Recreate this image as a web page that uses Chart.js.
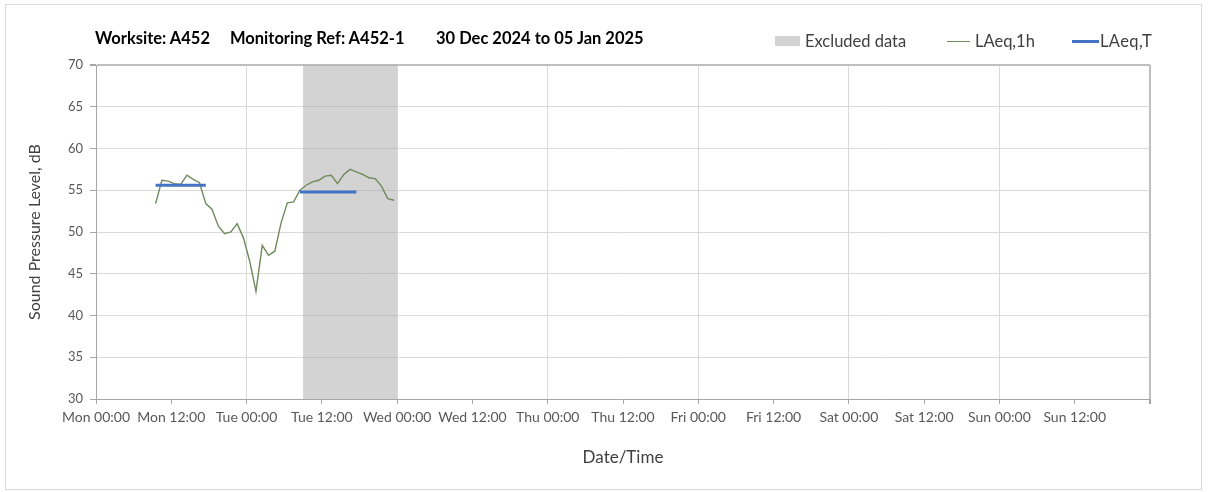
<!DOCTYPE html>
<html>
<head>
<meta charset="utf-8">
<script src="https://cdn.jsdelivr.net/npm/chart.js@4.4.1/dist/chart.umd.min.js"></script>
<style>
  html, body { margin: 0; padding: 0; background: #fff; }
  #wrap { position: relative; width: 1208px; height: 492px; overflow: hidden; }
  #frame { position: absolute; left: 5px; top: 4px; width: 1197px; height: 486px; border: 1px solid #d9d9d9; box-sizing: border-box; pointer-events: none; }
  canvas { position: absolute; left: 0; top: 0; }
  .t { position: absolute; top: 27px; font: bold 16.5px Lato, "Open Sans", sans-serif; color: #000; white-space: nowrap; line-height: 22px; }
  .lg { position: absolute; top: 30px; font: 16.5px Lato, "Open Sans", sans-serif; color: #404040; white-space: nowrap; line-height: 22px; }
  .sw { position: absolute; }
</style>
</head>
<body>
<div id="wrap">
  <canvas id="c" width="1208" height="492"></canvas>
  <div id="frame"></div>
  <div class="t" style="left:95px">Worksite: A452</div>
  <div class="t" style="left:230px">Monitoring Ref: A452-1</div>
  <div class="t" style="left:436px">30 Dec 2024 to 05 Jan 2025</div>

  <div class="sw" style="left:775px;top:36px;width:25px;height:10px;background:#d3d3d3"></div>
  <div class="lg" style="left:805px">Excluded data</div>
  <div class="sw" style="left:947px;top:41px;width:23px;height:1px;background:#6f8a5c"></div>
  <div class="lg" style="left:975px">LAeq,1h</div>
  <div class="sw" style="left:1072px;top:40px;width:27px;height:3px;background:#4472c4"></div>
  <div class="lg" style="left:1100px;letter-spacing:0.4px">LAeq,T</div>
</div>
<script>
// Hours elapsed since Mon 00:00 for each hourly reading
const hours = [9.5, 10.5, 11.5, 12.5, 13.5, 14.5, 15.5, 16.5, 17.5, 18.5,
               19.5, 20.5, 21.5, 22.5, 23.5, 24.5, 25.5, 26.5, 27.5, 28.5,
               29.5, 30.5, 31.5, 32.5, 33.5, 34.5, 35.5, 36.5, 37.5, 38.5,
               39.5, 40.5, 41.5, 42.5, 43.5, 44.5, 45.5, 46.5, 47.5];
// Hourly LAeq values, dB
const laeq1h = [53.4, 56.2, 56.1, 55.8, 55.7, 56.8, 56.3, 55.9, 53.4, 52.7,
                50.7, 49.8, 50.0, 51.0, 49.3, 46.5, 42.9, 48.4, 47.2, 47.7,
                51.1, 53.5, 53.6, 55.0, 55.6, 56.0, 56.2, 56.7, 56.8, 55.8,
                56.9, 57.5, 57.2, 56.9, 56.5, 56.4, 55.5, 54.0, 53.8];
// Period LAeq,T: start hour, end hour, level
const periodStart = [9.5, 32.5];
const periodEnd = [17.5, 41.5];
const periodLevel = [55.6, 54.8];
// Excluded period (hours)
const excludedStart = 33;
const excludedEnd = 48;
// X axis tick labels every 12 hours
const tickLabels = ['Mon 00:00', 'Mon 12:00', 'Tue 00:00', 'Tue 12:00', 'Wed 00:00', 'Wed 12:00',
                    'Thu 00:00', 'Thu 12:00', 'Fri 00:00', 'Fri 12:00', 'Sat 00:00', 'Sat 12:00',
                    'Sun 00:00', 'Sun 12:00'];

const lineData = hours.map((h, i) => ({ x: h, y: laeq1h[i] }));
const periodData = [];
periodStart.forEach((s, i) => {
  if (i > 0) periodData.push({ x: (periodEnd[i - 1] + s) / 2, y: null });
  periodData.push({ x: s, y: periodLevel[i] }, { x: periodEnd[i], y: periodLevel[i] });
});

const FONT = 'Lato, "Open Sans", sans-serif';

new Chart(document.getElementById('c'), {
  type: 'line',
  data: {
    datasets: [
      {
        label: 'LAeq,T',
        data: periodData,
        borderColor: '#4472c4',
        borderWidth: 3,
        pointRadius: 0,
        spanGaps: false,
        order: 0
      },
      {
        label: 'LAeq,1h',
        data: lineData,
        borderColor: '#6f8a5c',
        borderWidth: 1.4,
        pointRadius: 0,
        tension: 0,
        order: 1
      },
      {
        label: 'Excluded data',
        data: [{ x: excludedStart, y: 70 }, { x: excludedEnd, y: 70 }],
        borderWidth: 0,
        borderColor: 'rgba(0,0,0,0)',
        backgroundColor: 'rgba(168,168,168,0.5)',
        pointRadius: 0,
        fill: 'start',
        order: 2
      }
    ]
  },
  options: {
    responsive: false,
    animation: false,
    layout: { padding: { left: 0, right: 58, top: 65, bottom: 0 } },
    plugins: { legend: { display: false }, title: { display: false }, tooltip: { enabled: false } },
    scales: {
      x: {
        type: 'linear',
        min: 0,
        max: 168,
        afterFit: s => { s.height = 93; },
        ticks: {
          stepSize: 12,
          autoSkip: false,
          maxRotation: 0,
          padding: 5,
          color: '#595959',
          font: { family: FONT, size: 14 },
          callback: (v, i) => tickLabels[i] || ''
        },
        grid: {
          color: c => c.tick.value === 168 ? '#bfbfbf' : (c.tick.value % 24 === 0 ? '#d9d9d9' : 'rgba(0,0,0,0)'),
          lineWidth: c => c.tick.value === 168 ? 2 : 1,
          tickColor: '#a6a6a6',
          tickLength: 5
        },
        border: { color: '#a6a6a6', width: 1 },
        title: {
          display: true,
          text: 'Date/Time',
          color: '#404040',
          font: { family: FONT, size: 17 },
          padding: { top: 0, bottom: 24 }
        }
      },
      y: {
        min: 30,
        max: 70,
        afterFit: s => { s.width = 96; },
        ticks: {
          stepSize: 5,
          padding: 7,
          color: '#595959',
          font: { family: FONT, size: 13 }
        },
        grid: {
          color: c => c.tick.value === 70 ? '#bfbfbf' : '#d9d9d9',
          lineWidth: c => c.tick.value === 70 ? 2 : 1,
          tickColor: '#a6a6a6',
          tickLength: 6
        },
        border: { color: '#a6a6a6', width: 1 },
        title: {
          display: true,
          text: 'Sound Pressure Level, dB',
          color: '#404040',
          font: { family: FONT, size: 16 },
          padding: { top: 25, bottom: 0 }
        }
      }
    }
  }
});
</script>
</body>
</html>
